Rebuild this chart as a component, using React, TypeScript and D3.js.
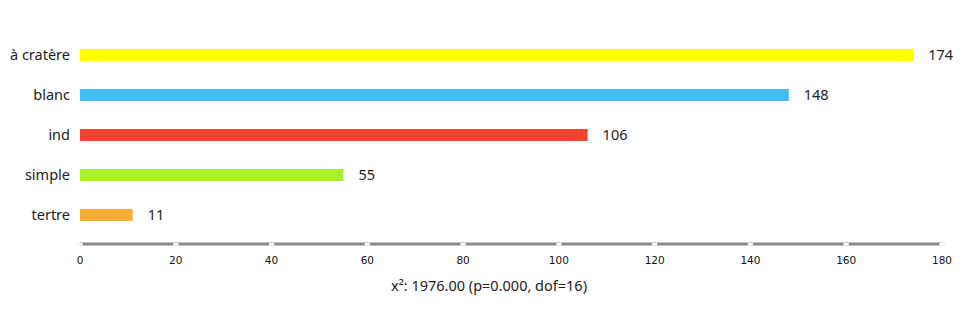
import React from "react";
import * as d3 from "d3";

const categories = ["à cratère", "blanc", "ind", "simple", "tertre"];
const values = [174, 148, 106, 55, 11];
const colors = ["#ffff00", "#44bbf7", "#ee4530", "#a8f02c", "#f7ae35"];
const ticks = [0, 20, 40, 60, 80, 100, 120, 140, 160, 180];
const title = "x²: 1976.00 (p=0.000, dof=16)";

export default function App() {
  const width = 978;
  const height = 320;
  const x = d3.scaleLinear().domain([0, 180]).range([80, 942]);
  const y = d3.scalePoint<string>().domain(categories).range([55, 215]);
  const barH = 12;
  const axisY = 244;
  const font = "'Noto Sans', 'Open Sans', sans-serif";
  return (
    <svg width={width} height={height} style={{ position: "absolute", left: 0, top: 0 }}>
      <rect width={width} height={height} fill="#fff" />
      {categories.map((c, i) => (
        <g key={c}>
          <rect
            x={x(0)}
            y={(y(c) as number) - barH / 2}
            width={x(values[i]) - x(0)}
            height={barH}
            fill={colors[i]}
          />
          <text
            x={70}
            y={y(c) as number}
            dy="0.35em"
            textAnchor="end"
            fontFamily={font}
            fontSize={14.5}
            fill="#222"
          >
            {c}
          </text>
          <text
            x={x(values[i]) + 15}
            y={y(c) as number}
            dy="0.35em"
            fontFamily={font}
            fontSize={14.5}
            fill="#222"
          >
            {values[i]}
          </text>
        </g>
      ))}
      <line x1={x(0)} x2={x(180)} y1={axisY} y2={axisY} stroke="#888" strokeWidth={3} />
      {ticks.map((t) => (
        <g key={t}>
          <rect x={x(t) - 2.5} y={axisY - 1} width={5} height={2.5} fill="#fff" stroke="#ddd" strokeWidth={0.5} />
          <text
            x={x(t)}
            y={260}
            dy="0.35em"
            textAnchor="middle"
            fontFamily="'DejaVu Sans', sans-serif"
            fontSize={10.5}
            fill="#111"
          >
            {t}
          </text>
        </g>
      ))}
      <text
        x={489}
        y={286}
        dy="0.35em"
        textAnchor="middle"
        fontFamily={font}
        fontSize={14.5}
        fill="#222"
      >
        {title}
      </text>
    </svg>
  );
}
